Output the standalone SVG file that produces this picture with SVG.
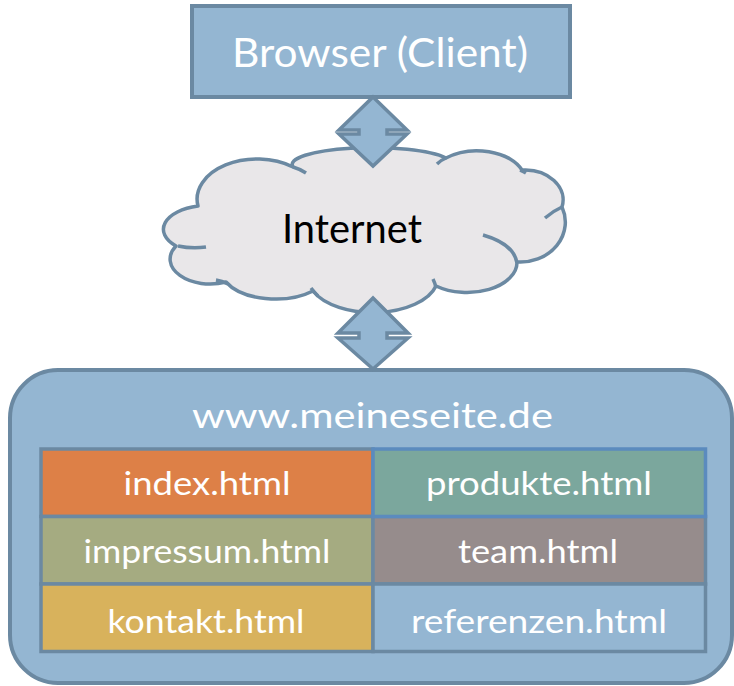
<svg xmlns="http://www.w3.org/2000/svg" width="734" height="686" viewBox="0 0 734 686">
<style>
.box{fill:#94B6D2;stroke:#6B89A2;stroke-width:4}
.cell{stroke:#6B89A2;stroke-width:3.5}
.cloud{fill:#E9E7E9;stroke:#6B89A2;stroke-width:3.5;stroke-linejoin:round}
.tick{fill:none;stroke:#6B89A2;stroke-width:3.5;stroke-linecap:butt}
.arrow{fill:#94B6D2;stroke:#6B89A2;stroke-width:3.5;stroke-linejoin:miter}
text{font-family:Lato,"Open Sans","Liberation Sans",sans-serif;text-anchor:middle;fill:#FFFFFF}
.t{font-size:33px}
</style>
<rect width="734" height="686" fill="#FFFFFF"/>
<g id="server">
<rect class="box" x="10" y="370" width="722" height="313" rx="48" ry="48"/>
<text x="372.5" y="428" font-size="34" textLength="361" lengthAdjust="spacingAndGlyphs">www.meineseite.de</text>
</g>
<g id="index">
<rect class="cell" x="41" y="449" width="332" height="67.5" fill="#DD8047"/>
<text class="t" x="207" y="495" textLength="167" lengthAdjust="spacingAndGlyphs">index.html</text>
</g>
<g id="impressum">
<rect class="cell" x="41" y="516.5" width="332" height="67.5" fill="#A5AB81"/>
<text class="t" x="207" y="563" textLength="247" lengthAdjust="spacingAndGlyphs">impressum.html</text>
</g>
<g id="kontakt">
<rect class="cell" x="41" y="584" width="332" height="67.5" fill="#D8B25C"/>
<text class="t" x="206" y="633" textLength="197" lengthAdjust="spacingAndGlyphs">kontakt.html</text>
</g>
<g id="team">
<rect class="cell" x="373" y="516.5" width="332.5" height="67.5" fill="#968C8C"/>
<text class="t" x="538" y="563" textLength="160" lengthAdjust="spacingAndGlyphs">team.html</text>
</g>
<g id="referenzen">
<rect class="cell" x="373" y="584" width="332.5" height="67.5" fill="#94B6D2"/>
<text class="t" x="539" y="633" textLength="256" lengthAdjust="spacingAndGlyphs">referenzen.html</text>
</g>
<g id="produkte">
<rect class="cell" x="373" y="449" width="332.5" height="67.5" fill="#7BA79D" style="stroke:#5B8BBE"/>
<text class="t" x="539" y="495" textLength="226" lengthAdjust="spacingAndGlyphs">produkte.html</text>
</g>
<g id="browser">
<rect class="box" x="192" y="6" width="378" height="91"/>
<text x="380" y="67" font-size="40" textLength="296" lengthAdjust="spacingAndGlyphs">Browser (Client)</text>
</g>
<g id="internet">
<path class="cloud" d="M 198 206 A 60 40 0 0 1 293 167 A 80 17 0 0 1 446 158 A 48 30 0 0 1 522 170 A 38 30 0 0 1 562 207 A 45 40 0 0 1 517 262 A 50 30 0 0 1 436 286 A 65 35 0 0 1 313 291 A 55 30 0 0 1 226 282 A 40 25 0 0 1 176 246 A 45 24 0 0 1 198 206 Z"/>
<path class="tick" d="M 178 246 Q 192 249 206 247"/>
<path class="tick" d="M 293 167 Q 300 169 306 173"/>
<path class="tick" d="M 446 158 Q 441 160 437 164"/>
<path class="tick" d="M 520 170 Q 523 171 526 173"/>
<path class="tick" d="M 562 207 Q 553 211 545 218"/>
<path class="tick" d="M 483 235 Q 514 244 517 263"/>
<path class="tick" d="M 433 279 Q 435 283 436 288"/>
<path class="tick" d="M 311 288 Q 314 292 318 296"/>
<path class="tick" d="M 216 280 Q 222 281 228 284"/>
<text x="352" y="243" font-size="40" textLength="140" lengthAdjust="spacingAndGlyphs" style="fill:#000000">Internet</text>
</g>
<g id="connectors">
<polygon class="arrow" points="373,97 407,130 387,130 387,134 407,134 373,166 339,134 359,134 359,130 339,130"/>
<polygon class="arrow" points="373,298 408,333 387,333 387,338 408,338 373,369 338,338 359,338 359,333 338,333"/>
</g>
</svg>
